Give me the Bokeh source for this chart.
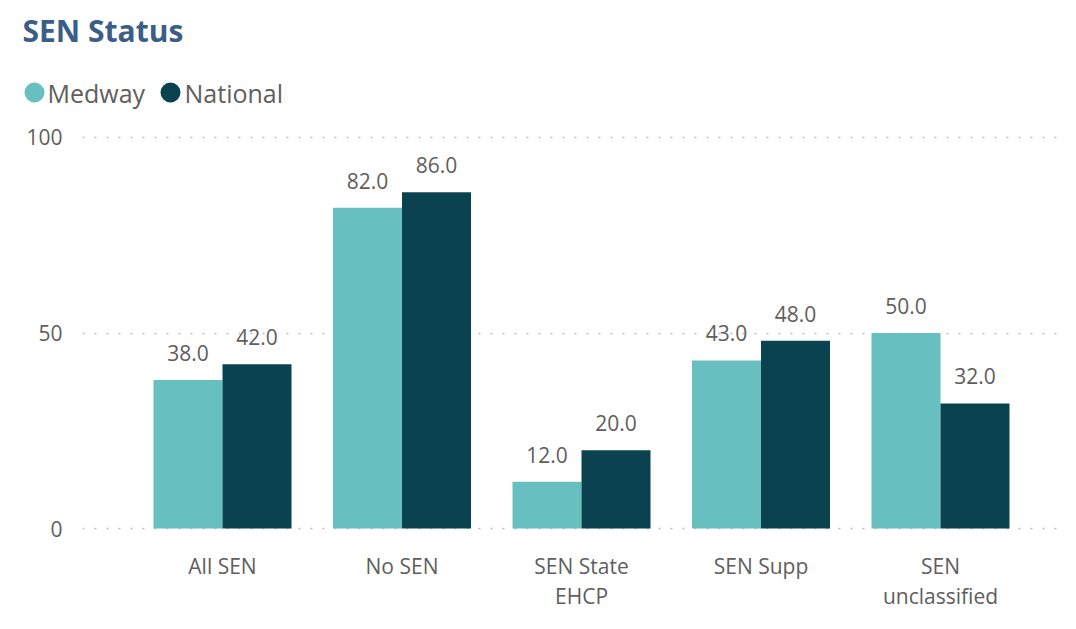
import numpy as np
from bokeh.plotting import figure
from bokeh.layouts import column, row
from bokeh.models import Range1d, FixedTicker, ColumnDataSource, Label
from bokeh.core.properties import value
from bokeh.embed import file_html
from bokeh.resources import INLINE

# ---- data ----
categories = ["All SEN", "No SEN", "SEN State\nEHCP", "SEN Supp", "SEN\nunclassified"]
medway = [38.0, 82.0, 12.0, 43.0, 50.0]
national = [42.0, 86.0, 20.0, 48.0, 32.0]
series = ["Medway", "National"]
y_ticks = [0, 50, 100]

# ---- style ----
FONT = "Open Sans"
C_MED = "#67bfbf"
C_NAT = "#0a434f"
C_TEXT = "#605e5c"
C_TITLE = "#3b5e87"

W, H = 1060, 613
HT = 110                                      # header (title + legend) height

# ---------------- header: title + legend ----------------
head = figure(width=W, height=HT, output_backend="svg", toolbar_location=None,
              x_range=Range1d(0, W), y_range=Range1d(HT, 0),
              x_axis_location=None, y_axis_location=None,
              min_border=0, min_border_left=0, min_border_right=0,
              min_border_top=0, min_border_bottom=0)
head.outline_line_color = None
head.grid.visible = False
head.background_fill_color = "white"
head.border_fill_color = "white"

head.add_layout(Label(x=22, y=30, text="SEN Status", text_font=FONT,
                      text_font_size="30px", text_font_style="bold",
                      text_color=C_TITLE, text_baseline="middle"))
head.scatter(x=[34, 170], y=[92, 92], marker="circle", size=20,
             fill_color=[C_MED, C_NAT], line_color=None)
for tx, s in zip([47, 184], series):
    head.add_layout(Label(x=tx, y=92, text=s, text_font=FONT, text_font_size="25px",
                          text_color=C_TEXT, text_baseline="middle"))

# ---------------- chart ----------------
FL, FR, FT, FB = 82, 1060, 133 - HT, 534 - HT  # frame edges (canvas px)
X0 = -0.28
X1 = X0 + (FR - FL) / 179.5
Y0, Y1 = -1.0, 101.0
HC = H - HT

p = figure(width=W, height=HC, output_backend="svg", toolbar_location=None,
           x_range=Range1d(X0, X1), y_range=Range1d(Y0, Y1),
           min_border_left=FL, min_border_right=W - FR,
           min_border_top=FT, min_border_bottom=HC - FB)
p.outline_line_color = None
p.background_fill_color = "white"
p.border_fill_color = "white"

for fig in (head, p):
    if hasattr(fig, "frame_align"):
        fig.frame_align = False

n = len(categories)
centers = np.arange(n) + 0.5
bw = 0.3844
src = ColumnDataSource(dict(
    xm=centers - bw / 2, xn=centers + bw / 2,
    med=medway, nat=national,
    lm=[f"{v:.1f}" for v in medway], ln=[f"{v:.1f}" for v in national],
))

p.vbar(x="xm", top="med", bottom=0, width=bw, source=src, fill_color=C_MED, line_color=None)
p.vbar(x="xn", top="nat", bottom=0, width=bw, source=src, fill_color=C_NAT, line_color=None)

for xcol, ycol, lcol in (("xm", "med", "lm"), ("xn", "nat", "ln")):
    p.text(x=xcol, y=ycol, text=lcol, source=src, text_align="center",
           text_baseline="middle", y_offset=-27,
           text_font=value(FONT), text_font_size="21px", text_color=C_TEXT)

p.xgrid.visible = False
p.ygrid.ticker = FixedTicker(ticks=y_ticks)
p.ygrid.grid_line_color = "#bdbbb9"
p.ygrid.grid_line_dash = "2 10"
p.ygrid.grid_line_width = 1.5

p.yaxis.ticker = FixedTicker(ticks=y_ticks)
p.yaxis.axis_line_color = None
p.yaxis.major_tick_line_color = None
p.yaxis.minor_tick_line_color = None
p.yaxis.major_tick_out = 0
p.yaxis.major_tick_in = 0
p.yaxis.major_label_standoff = 20
p.yaxis.major_label_text_font = FONT
p.yaxis.major_label_text_font_size = "21px"
p.yaxis.major_label_text_color = C_TEXT

p.xaxis.ticker = FixedTicker(ticks=list(centers))
p.xaxis.major_label_overrides = {float(c): lab for c, lab in zip(centers, categories)}
p.xaxis.axis_line_color = None
p.xaxis.major_tick_line_color = None
p.xaxis.minor_tick_line_color = None
p.xaxis.major_tick_out = 0
p.xaxis.major_tick_in = 0
p.xaxis.major_label_standoff = 19
p.xaxis.major_label_text_font = FONT
p.xaxis.major_label_text_font_size = "21px"
p.xaxis.major_label_text_color = C_TEXT
p.xaxis.major_label_text_line_height = 1.09

layout = column(row(head, spacing=0), p, spacing=0)
open("out.html", "w").write(file_html(layout, INLINE))
